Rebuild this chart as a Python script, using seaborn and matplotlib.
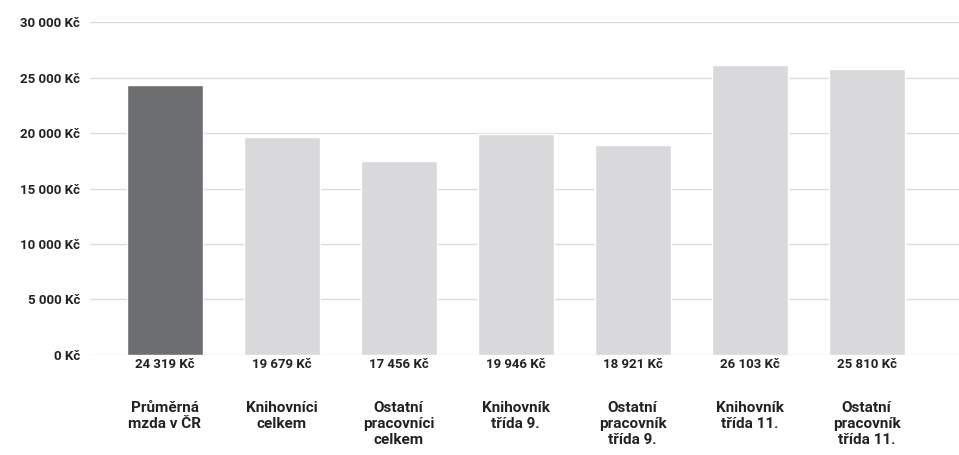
import matplotlib
matplotlib.use('Agg')
from matplotlib import pyplot as plt
import matplotlib.transforms as mtransforms
import pandas as pd
import seaborn as sns

categories = ["Průměrná\nmzda v ČR", "Knihovníci\ncelkem", "Ostatní\npracovníci\ncelkem",
              "Knihovník\ntřída 9.", "Ostatní\npracovník\ntřída 9.", "Knihovník\ntřída 11.",
              "Ostatní\npracovník\ntřída 11."]
wages = [24319, 19679, 17456, 19946, 18921, 26103, 25810]
y_ticks = [0, 5000, 10000, 15000, 20000, 25000, 30000]

dark = "#6d6e70"
light = "#d9d9db"


def kc(v):
    return "{:,}".format(v).replace(",", " ") + " Kč"


df = pd.DataFrame({"cat": categories, "wage": wages})
colors = [dark] + [light] * (len(categories) - 1)

sns.set_theme(style="white")
plt.rcParams['font.family'] = ['Roboto', 'DejaVu Sans']

fig = plt.figure(figsize=(9.59, 4.55), dpi=100)
ax = fig.add_axes([0.0938, 0.2198, 0.9062, 0.7318])
sns.barplot(data=df, x="cat", y="wage", hue="cat", palette=colors, legend=False,
            width=0.65, saturation=1, ax=ax)

ax.set_ylim(0, 30000)
ax.set_xlim(-0.64, 6.79)
ax.set_yticks(y_ticks)
ax.set_yticklabels([kc(v) for v in y_ticks], fontsize=9.5, fontweight='bold', color='#222222')
ax.tick_params(axis='y', length=0, pad=7)
ax.set_xticks([])
ax.set_xlabel("")
ax.set_ylabel("")
ax.yaxis.grid(True, color="#dcdcdc", linewidth=1)
ax.set_axisbelow(True)
for s in ax.spines.values():
    s.set_visible(False)

trans = mtransforms.blended_transform_factory(ax.transData, ax.transAxes)
for i, (c, v) in enumerate(zip(categories, wages)):
    ax.text(i, -0.03, kc(v), transform=trans, ha='center', va='center',
            fontsize=9.5, fontweight='bold', color='#222222')
    ax.text(i, -0.138, c, transform=trans, ha='center', va='top',
            fontsize=11, fontweight='bold', color='#222222', linespacing=1.2)

plt.savefig("out.png", dpi=100)
